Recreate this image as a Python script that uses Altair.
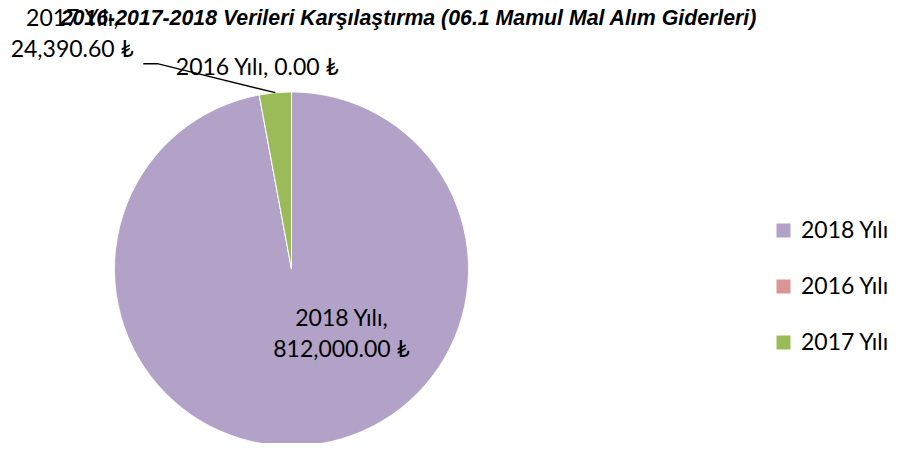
import math
import altair as alt
import pandas as pd

categories = ["2018 Yılı", "2016 Yılı", "2017 Yılı"]
values = [812000.00, 0.00, 24390.60]
colors = ["#B3A2C7", "#D99694", "#9BBB59"]
separators = [",\n", ", ", ",\n"]
title_text = "2016-2017-2018 Verileri Karşılaştırma (06.1 Mamul Mal Alım Giderleri)"

W, H = 567, 348
R = 177
FONT = "Lato"

df = pd.DataFrame({
    "cat": categories,
    "value": values,
    "order": list(range(len(categories))),
    "label": [f"{c}{s}{v:,.2f} ₺" for c, v, s in zip(categories, values, separators)],
})

# leader line for the 2017 label: from the slice's outer edge to the label
total = sum(values)
cum = 0.0
mids = []
for v in values:
    mids.append((cum + v / 2) / total * 2 * math.pi)
    cum += v
a = mids[2]
ex = W / 2 + R * math.sin(a)
ey = H / 2 - R * math.cos(a)
leader = pd.DataFrame({
    "x": [ex, ex - 118, ex - 132],
    "y": [ey, ey - 29, ey - 29],
    "o": [0, 1, 2],
})

base = alt.Chart(df).encode(
    theta=alt.Theta("value:Q", stack=True),
    order=alt.Order("order:Q"),
)

pie = base.mark_arc(outerRadius=R, stroke="white", strokeWidth=0.8).encode(
    color=alt.Color(
        "cat:N",
        scale=alt.Scale(domain=categories, range=colors),
        sort=categories,
        legend=alt.Legend(
            title=None, orient="none", legendX=764, legendY=124,
            symbolType="square", symbolSize=196, symbolStrokeWidth=0,
            labelFont=FONT, labelFontSize=23, labelColor="black",
            rowPadding=32, labelOffset=6, padding=0,
        ),
    )
)


def label_layer(cat, radius, dx, dy):
    return base.mark_text(
        radius=radius, dx=dx, dy=dy, font=FONT, fontSize=23, color="black",
        lineBreak="\n", lineHeight=31, align="center", baseline="middle",
    ).encode(
        text=alt.condition(f"datum.cat == '{cat}'", alt.Text("label:N"), alt.value(""))
    )


lab2018 = label_layer("2018 Yılı", 65.5, 44, -15)
lab2016 = label_layer("2016 Yılı", 204, 3, 0)
lab2017 = label_layer("2017 Yılı", 177, -203, -74)

line = alt.Chart(leader).mark_line(color="black", strokeWidth=1.3).encode(
    x=alt.X("x:Q", scale=None, axis=None),
    y=alt.Y("y:Q", scale=None, axis=None),
    order="o:Q",
)

chart = alt.layer(pie, line, lab2018, lab2016, lab2017).properties(
    width=W,
    height=H,
    title=alt.TitleParams(
        title_text, font="Liberation Sans", fontSize=21.3, fontWeight="bold",
        fontStyle="italic", color="black", anchor="middle", dx=117,
        offset=-39, frame="group", baseline="alphabetic",
    ),
    autosize=alt.AutoSizeParams(type="none"),
    padding={"left": 0, "top": 87, "right": 314, "bottom": 0},
).configure(background="white").configure_view(stroke=None)

chart.save("out.html", embed_options={"renderer": "svg", "actions": False})
